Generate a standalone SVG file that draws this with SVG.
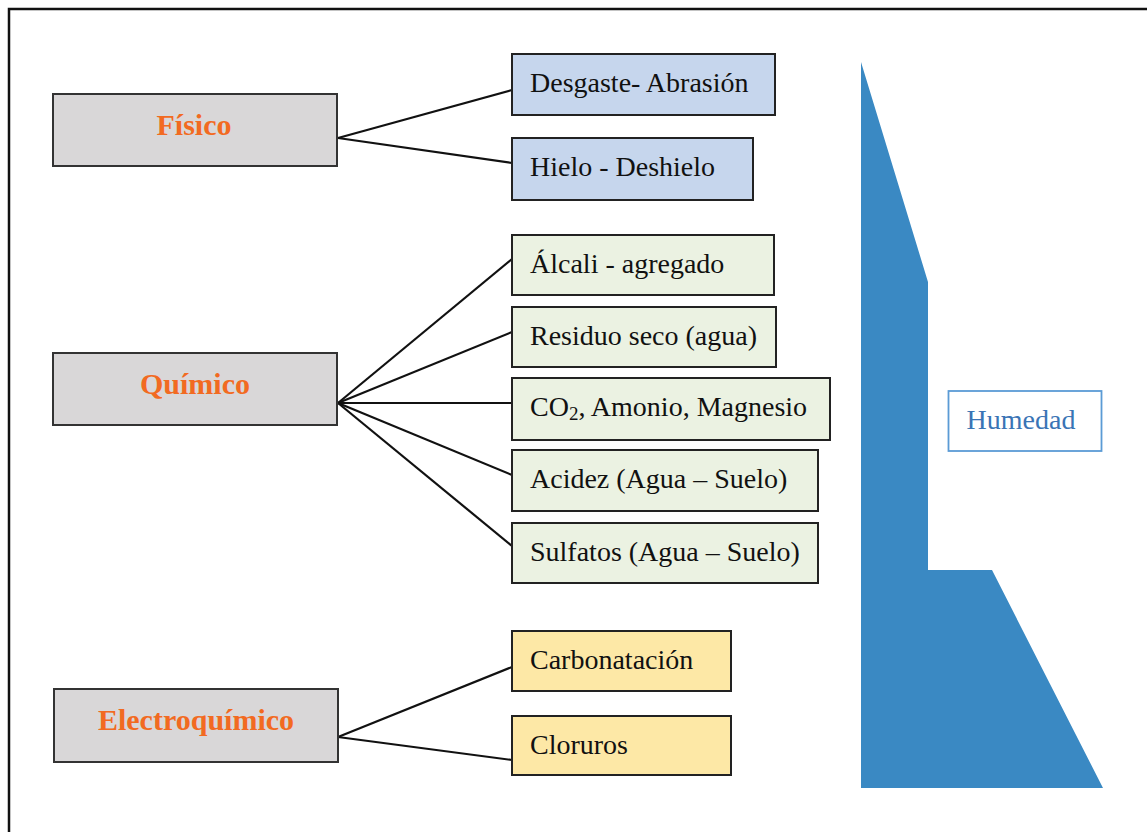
<svg xmlns="http://www.w3.org/2000/svg" width="1147" height="832" viewBox="0 0 1147 832">
<style>
.cat rect{fill:#d9d7d8;stroke:#333;stroke-width:2}
.cat text{font-family:"Liberation Serif",serif;font-weight:bold;font-size:30px;fill:#f26a21;text-anchor:middle}
.item rect{stroke:#222;stroke-width:2}
.item text{font-family:"Liberation Serif",serif;font-size:28px;fill:#111}
.blue rect{fill:#c6d6ed}
.green rect{fill:#ebf2e2}
.yellow rect{fill:#fde8a6}
#connectors line{stroke:#111;stroke-width:2.2}
</style>
<rect width="1147" height="832" fill="#fff"/>
<path d="M9,832 V9 H1147" fill="none" stroke="#111" stroke-width="2.5"/>

<g id="humedad-shape">
<polygon points="861,62 928,282 928,570 992,570 1103,788 861,788" fill="#3a89c3"/>
</g>
<g id="humedad">
<rect x="948.5" y="391" width="153" height="60" fill="#fff" stroke="#5b9bd5" stroke-width="1.8"/>
<text x="1021" y="429" font-family="Liberation Serif, serif" font-size="28" fill="#3a74b5" text-anchor="middle">Humedad</text>
</g>

<g id="connectors">
<line x1="338" y1="138" x2="512" y2="90"/>
<line x1="338" y1="138" x2="512" y2="163"/>
<line x1="338" y1="403" x2="512" y2="259"/>
<line x1="338" y1="403" x2="512" y2="332"/>
<line x1="338" y1="403" x2="512" y2="403"/>
<line x1="338" y1="403" x2="512" y2="475"/>
<line x1="338" y1="403" x2="512" y2="546"/>
<line x1="338" y1="737" x2="512" y2="667"/>
<line x1="338" y1="737" x2="512" y2="760"/>
</g>

<g id="fisico" class="cat"><rect x="53" y="94" width="284" height="72"/><text x="194" y="135">Físico</text></g>
<g id="quimico" class="cat"><rect x="53" y="353" width="284" height="72"/><text x="195" y="394">Químico</text></g>
<g id="electroquimico" class="cat"><rect x="54" y="689" width="284" height="73"/><text x="196" y="730">Electroquímico</text></g>

<g id="desgaste" class="item blue"><rect x="512" y="54" width="263" height="61"/><text x="530" y="92">Desgaste- Abrasión</text></g>
<g id="hielo" class="item blue"><rect x="512" y="138" width="241" height="62"/><text x="530" y="176">Hielo - Deshielo</text></g>

<g id="alcali" class="item green"><rect x="512" y="235" width="262" height="60"/><text x="530" y="273">Álcali - agregado</text></g>
<g id="residuo" class="item green"><rect x="512" y="307" width="264" height="60"/><text x="530" y="345">Residuo seco (agua)</text></g>
<g id="co2" class="item green"><rect x="512" y="378" width="318" height="62"/><text x="530" y="416">CO<tspan font-size="19" dy="4">2</tspan><tspan dy="-4">, Amonio, Magnesio</tspan></text></g>
<g id="acidez" class="item green"><rect x="512" y="450" width="306" height="61"/><text x="530" y="488">Acidez (Agua – Suelo)</text></g>
<g id="sulfatos" class="item green"><rect x="512" y="523" width="306" height="60"/><text x="530" y="561">Sulfatos (Agua – Suelo)</text></g>

<g id="carbonatacion" class="item yellow"><rect x="512" y="631" width="219" height="60"/><text x="530" y="669">Carbonatación</text></g>
<g id="cloruros" class="item yellow"><rect x="512" y="716" width="219" height="59"/><text x="530" y="754">Cloruros</text></g>
</svg>
